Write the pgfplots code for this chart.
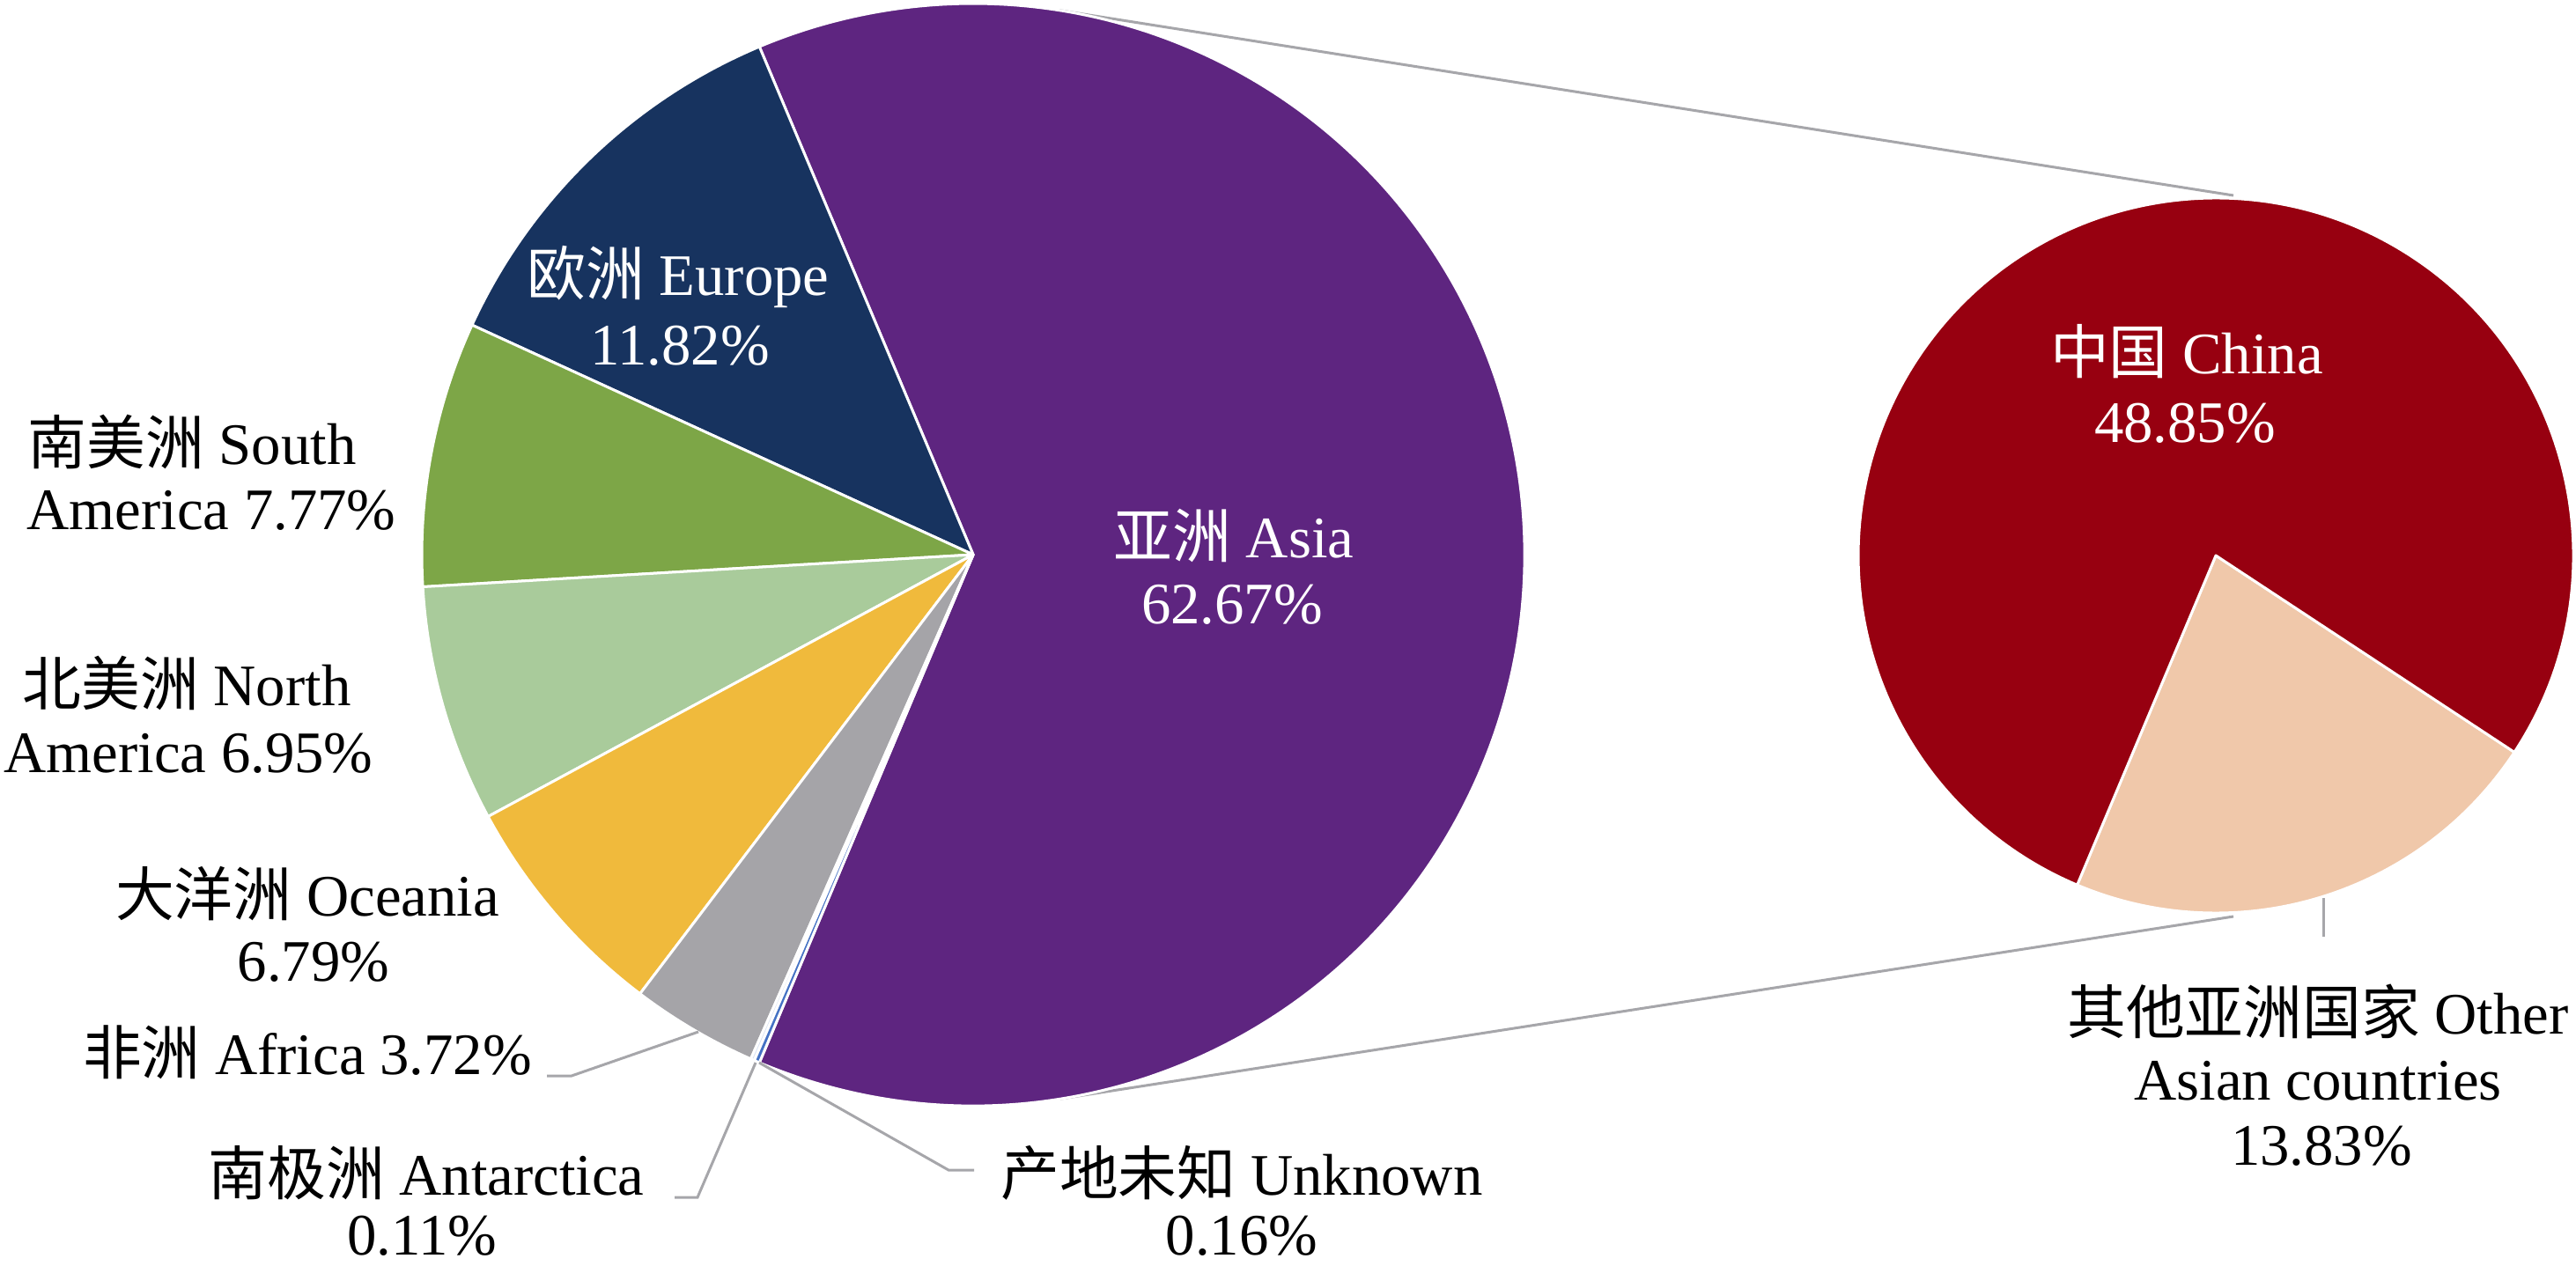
\documentclass[border=0pt]{standalone}
\usepackage{fontspec}
\setmainfont{Liberation Serif}
\newfontfamily\cjk{Noto Sans CJK SC}
\usepackage{pgfplots}
\pgfplotsset{compat=1.18}

\definecolor{cAsia}{HTML}{5E2580}
\definecolor{cEur}{HTML}{17335F}
\definecolor{cSA}{HTML}{7DA647}
\definecolor{cNA}{HTML}{A9CB9B}
\definecolor{cOc}{HTML}{F0BA3C}
\definecolor{cAf}{HTML}{A5A4A8}
\definecolor{cAn}{HTML}{DAE3F3}
\definecolor{cUn}{HTML}{4472C4}
\definecolor{cCN}{HTML}{970010}
\definecolor{cOth}{HTML}{F0C8AA}
\definecolor{lc}{HTML}{A6A6AA}

% shares (percent)
\def\vAsia{62.67}\def\vEur{11.82}\def\vSA{7.77}\def\vNA{6.95}
\def\vOc{6.79}\def\vAf{3.72}\def\vAn{0.11}\def\vUn{0.16}
\def\vCN{48.85}\def\vOth{13.83}

\pgfmathsetmacro\T{\vAsia+\vEur+\vSA+\vNA+\vOc+\vAf+\vAn+\vUn}
\pgfmathsetmacro\aA{180*\vAsia/\T}
\pgfmathsetmacro\aB{\aA+360*\vEur/\T}
\pgfmathsetmacro\aC{\aB+360*\vSA/\T}
\pgfmathsetmacro\aD{\aC+360*\vNA/\T}
\pgfmathsetmacro\aE{\aD+360*\vOc/\T}
\pgfmathsetmacro\aF{\aE+360*\vAf/\T}
\pgfmathsetmacro\aG{\aF+360*\vAn/\T}
\pgfmathsetmacro\aH{360-\aA}
\pgfmathsetmacro\sA{-\aA}
\pgfmathsetmacro\sB{\sA+360*\vOth/(\vCN+\vOth)}
\pgfmathsetmacro\sC{360-\aA}

\newcommand\lbl{\fontsize{19}{22}\selectfont}
\newcommand\slice[5]{% center, start, end, radius, colour
  \fill[#5,draw=white,line width=0.03cm,line join=round] (axis cs:#1) -- +(#2:#4) arc[start angle=#2,end angle=#3,radius=#4] -- cycle;}

\begin{document}
\begin{tikzpicture}
\begin{axis}[width=29.25cm,height=14.38cm,scale only axis,
  xmin=0,xmax=2925,ymin=0,ymax=1438,y dir=reverse,
  hide axis,clip=false]
% connector lines
\addplot[lc,line width=0.03cm,mark=none] coordinates {(1202.6,11.7) (2536,222)};
\addplot[lc,line width=0.03cm,mark=none] coordinates {(1202.6,1248.3) (2536,1041)};
% main pie
\slice{1105,630}{\sA}{\aA}{6.26cm}{cAsia}
\slice{1105,630}{\aA}{\aB}{6.26cm}{cEur}
\slice{1105,630}{\aB}{\aC}{6.26cm}{cSA}
\slice{1105,630}{\aC}{\aD}{6.26cm}{cNA}
\slice{1105,630}{\aD}{\aE}{6.26cm}{cOc}
\slice{1105,630}{\aE}{\aF}{6.26cm}{cAf}
\slice{1105,630}{\aF}{\aG}{6.26cm}{cAn}
\slice{1105,630}{\aG}{\aH}{6.26cm}{cUn}
% secondary pie
\slice{2516,631}{\sA}{\sB}{4.06cm}{cOth}
\slice{2516,631}{\sB}{\sC}{4.06cm}{cCN}
% leader lines
\addplot[lc,line width=0.03cm,mark=none] coordinates {(621,1222) (649,1222) (793,1172)};
\addplot[lc,line width=0.03cm,mark=none] coordinates {(766,1360) (792,1360) (858,1207)};
\addplot[lc,line width=0.03cm,mark=none] coordinates {(1106,1329) (1077,1329) (862,1207)};
\addplot[lc,line width=0.03cm,mark=none] coordinates {(2638,1020) (2638,1064)};
% labels
\begin{scope}[every node/.style={anchor=base,font=\lbl,inner sep=0pt}]
\node[text=white] at (axis cs:1401,633) {{\cjk 亚洲} Asia};
\node[text=white] at (axis cs:1399,708) {62.67\%};
\node[text=white] at (axis cs:770,336) {{\cjk 欧洲} Europe};
\node[text=white] at (axis cs:772,415) {11.82\%};
\node at (axis cs:218,527) {{\cjk 南美洲} South};
\node at (axis cs:240,601) {America 7.77\%};
\node at (axis cs:212,801) {{\cjk 北美洲} North};
\node at (axis cs:214,877) {America 6.95\%};
\node at (axis cs:349,1040) {{\cjk 大洋洲} Oceania};
\node at (axis cs:356,1114) {6.79\%};
\node at (axis cs:349,1220) {{\cjk 非洲} Africa 3.72\%};
\node at (axis cs:484,1357) {{\cjk 南极洲} Antarctica};
\node at (axis cs:479,1425) {0.11\%};
\node at (axis cs:1410,1357) {{\cjk 产地未知} Unknown};
\node at (axis cs:1410,1425) {0.16\%};
\node[text=white] at (axis cs:2483,424) {{\cjk 中国} China};
\node[text=white] at (axis cs:2481,502) {48.85\%};
\node at (axis cs:2632,1174) {{\cjk 其他亚洲国家} Other};
\node at (axis cs:2632,1249) {Asian countries};
\node at (axis cs:2636,1323) {13.83\%};
\end{scope}
\end{axis}
\pgfresetboundingbox
\path[use as bounding box] (current axis.south west) rectangle (current axis.north east);
\end{tikzpicture}
\end{document}
